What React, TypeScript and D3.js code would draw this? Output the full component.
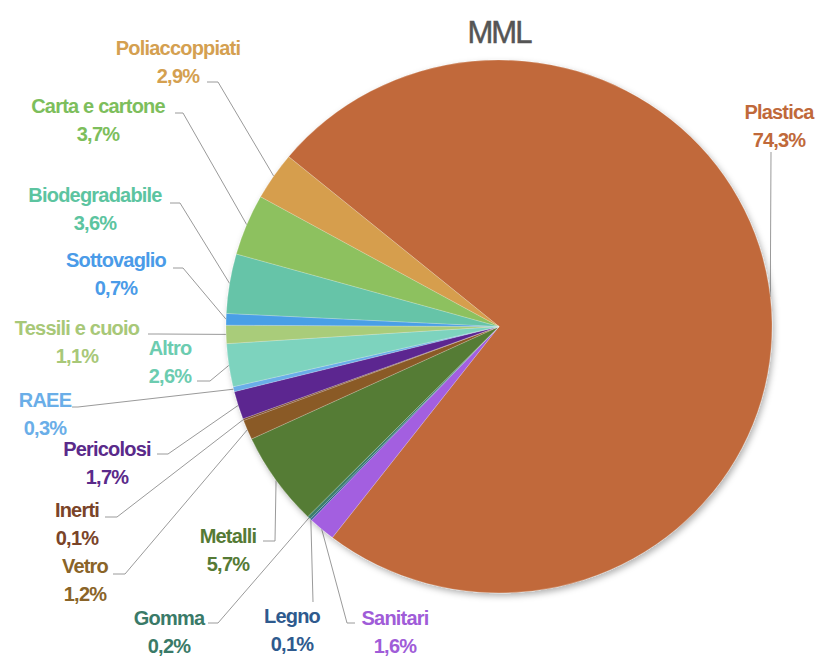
import React from 'react';
import * as d3 from 'd3';

const categories = ['Plastica', 'Sanitari', 'Legno', 'Gomma', 'Metalli', 'Vetro', 'Inerti', 'Pericolosi', 'RAEE', 'Altro', 'Tessili e cuoio', 'Sottovaglio', 'Biodegradabile', 'Carta e cartone', 'Poliaccoppiati'];
const values = [74.3, 1.6, 0.1, 0.2, 5.7, 1.2, 0.1, 1.7, 0.3, 2.6, 1.1, 0.7, 3.6, 3.7, 2.9];
const sliceColors = ['#C1693A', '#A35FE0', '#2E5E93', '#3A7F6A', '#557B34', '#8A5A26', '#7A4626', '#5B2590', '#6AAEE8', '#7DD3BE', '#A9CC7A', '#4A9FE6', '#66C4A8', '#8DC15E', '#D69E4E'];
const textColors = ['#C0693A', '#A05CD8', '#2E5A8E', '#3A7A68', '#557A35', '#8A6428', '#7A4428', '#5A2A8A', '#6AAEE8', '#6CCCB0', '#A8C878', '#4A9BE8', '#5CC4A0', '#7DBE5C', '#D4A050'];
// label placement: [textCenterX, line1Baseline, leaderStartX, leaderStartY, elbowX, elbowY]
const labelLayout: number[][] = [
  [779, 119, 771, 152, 771, 152],
  [395, 625, 355, 623, 347, 623],
  [292, 623, 313, 602, 313, 602],
  [169, 625, 208, 623, 218, 623],
  [228, 543, 263, 541, 275, 541],
  [85, 573, 113, 574, 125, 574],
  [77, 517, 105, 517, 117, 517],
  [107, 456, 157, 454, 168, 454],
  [45, 407, 72, 407, 78, 407],
  [170, 355, 197, 381, 210, 381],
  [77, 335, 148, 334, 158, 334],
  [116, 267, 173, 268, 183, 268],
  [95, 202, 170, 203, 180, 203],
  [98, 113, 175, 113, 183, 113],
  [178, 55, 207, 82, 218, 82],
];
const title = 'MML';

const W = 818, H = 658;
const cx = 499, cy = 326.5, r = 266.5, sx = 273 / 266.5;
const startDeg = -50.4;

export default function App() {
  const pie = d3.pie<number>().sort(null).value(d => d)
    .startAngle(startDeg * Math.PI / 180).endAngle(startDeg * Math.PI / 180 + 2 * Math.PI);
  const arcs = pie(values);
  const arc = d3.arc<d3.PieArcDatum<number>>().innerRadius(0).outerRadius(r);
  const edge = d3.arc<d3.PieArcDatum<number>>().innerRadius(r).outerRadius(r);
  const fmt = (v: number) => d3.format('.1f')(v).replace('.', ',') + '%';
  const font = "'Liberation Sans', Arial, Helvetica, sans-serif";

  return (
    <svg width={W} height={H} style={{ position: 'absolute', left: 0, top: 0, background: '#fff' }}>
      <defs>
        <filter id="sh" x="-10%" y="-10%" width="120%" height="120%">
          <feDropShadow dx="2" dy="3" stdDeviation="3" floodColor="#000" floodOpacity="0.3" />
        </filter>
      </defs>
      <text x={cx} y={43} textAnchor="middle" fontFamily={font} fontSize={31} fill="#555" stroke="#555" strokeWidth={0.5} letterSpacing={-2}>{title}</text>
      {arcs.map((a, i) => {
        const [ex, ey] = edge.centroid(a);
        const px = cx + ex * sx, py = cy + ey;
        const L = labelLayout[i];
        const pts: [number, number][] = [[L[2], L[3]], [L[4], L[5]], [px, py]];
        return <path key={'l' + i} d={d3.line()(pts) || ''} fill="none" stroke="#9a9a9a" strokeWidth={1} />;
      })}
      <g transform={`translate(${cx},${cy}) scale(${sx},1)`} filter="url(#sh)">
        {arcs.map((a, i) => (
          <path key={i} d={arc(a) || ''} fill={sliceColors[i]} stroke="rgba(255,255,255,0.35)" strokeWidth={0.6} />
        ))}
      </g>
      {categories.map((c, i) => {
        const L = labelLayout[i];
        return (
          <text key={'t' + i} x={L[0]} y={L[1]} textAnchor="middle" fontFamily={font} fontWeight={700} fontSize={20} letterSpacing={-0.8} fill={textColors[i]}>
            <tspan x={L[0]}>{c}</tspan>
            <tspan x={L[0]} dy={27.5}>{fmt(values[i])}</tspan>
          </text>
        );
      })}
    </svg>
  );
}
